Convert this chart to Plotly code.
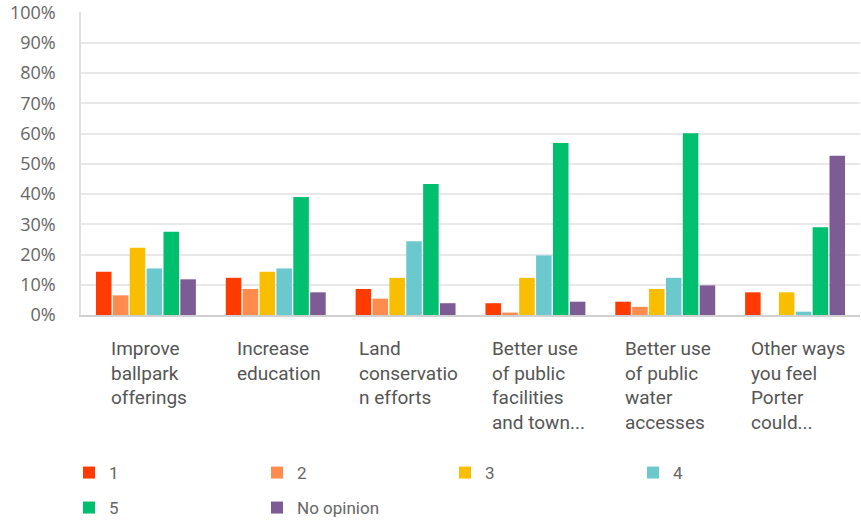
import plotly.graph_objects as go

categories = [
    "Improve<br>ballpark<br>offerings",
    "Increase<br>education",
    "Land<br>conservatio<br>n efforts",
    "Better use<br>of public<br>facilities<br>and town...",
    "Better use<br>of public<br>water<br>accesses",
    "Other ways<br>you feel<br>Porter<br>could...",
]
cat_keys = ["c1", "c2", "c3", "c4", "c5", "c6"]

series_names = ["1", "2", "3", "4", "5", "No opinion"]
v1 = [14.3, 12.3, 8.6, 3.9, 4.4, 7.5]
v2 = [6.5, 8.6, 5.4, 0.8, 2.7, 0.0]
v3 = [22.2, 14.3, 12.3, 12.3, 8.6, 7.5]
v4 = [15.4, 15.4, 24.4, 19.7, 12.3, 1.1]
v5 = [27.5, 39.0, 43.3, 56.9, 60.1, 29.0]
v6 = [11.8, 7.5, 3.9, 4.4, 9.8, 52.7]
series_values = [v1, v2, v3, v4, v5, v6]
colors = ["#FF3B00", "#FF8B4F", "#F9BE00", "#6BC8CD", "#00BF6F", "#7D5C96"]
legend_ids = ["legend", "legend", "legend", "legend", "legend2", "legend2"]

y_ticks = [0, 10, 20, 30, 40, 50, 60, 70, 80, 90, 100]
y_labels = [f"{t}%" for t in y_ticks]

fig = go.Figure()
for name, vals, col, lg in zip(series_names, series_values, colors, legend_ids):
    fig.add_trace(go.Bar(
        x=cat_keys, y=vals, name=name, marker=dict(color=col, line=dict(width=0)),
        legend=lg,
    ))

for key, label in zip(cat_keys, categories):
    fig.add_annotation(
        x=key, xref="x", y=0, yref="paper", yshift=-20,
        text=label, showarrow=False, xanchor="center", yanchor="top",
        align="left", xshift=3,
        font=dict(family="Roboto, sans-serif", size=19, color="#555555"),
    )

legend_common = dict(
    orientation="h", xanchor="left", yanchor="middle",
    xref="container", yref="container",
    font=dict(family="Roboto, sans-serif", size=17, color="#666666"),
    entrywidth=143, entrywidthmode="pixels", bgcolor="rgba(0,0,0,0)",
    traceorder="normal",
)

fig.update_layout(
    width=861, height=523,
    margin=dict(l=81, r=1, t=12, b=208, autoexpand=False),
    paper_bgcolor="white", plot_bgcolor="white",
    barmode="group", bargap=0.22, bargroupgap=0.08,
    showlegend=True,
    legend=dict(x=69 / 861, y=1 - 473 / 523, **legend_common),
    legend2=dict(x=69 / 861, y=1 - 508 / 523, **legend_common),
    xaxis=dict(showticklabels=False, showgrid=False, showline=True,
               linecolor="#d0d0d0", linewidth=1.5, ticks="", fixedrange=True),
    yaxis=dict(range=[0, 100.2], tickvals=y_ticks, ticktext=y_labels,
               showgrid=True, gridcolor="#e8e8e8", gridwidth=1.5,
               showline=True, linecolor="#e0e0e0", linewidth=1.5,
               zeroline=False, ticks="", ticklabelstandoff=20, automargin=False,
               ticklabeloverflow="allow",
               tickfont=dict(family="Open Sans, sans-serif", size=18, color="#666666")),
)

fig.write_html("out.html", config={"displayModeBar": False},
               post_script="document.body.style.margin='0';")
